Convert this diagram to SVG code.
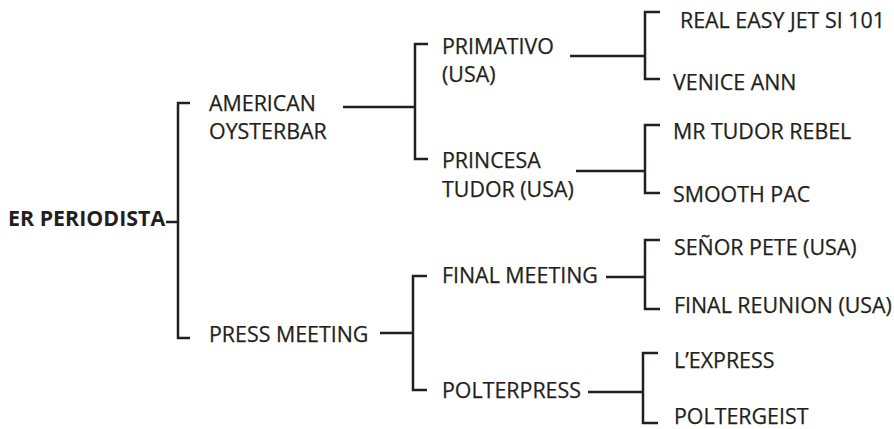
<svg xmlns="http://www.w3.org/2000/svg" width="894" height="429" viewBox="0 0 894 429">
<style>
text{font-family:"Open Sans","Noto Sans","Liberation Sans",sans-serif;font-size:21.4px;fill:#231f20;stroke:#231f20;stroke-width:0.25}
.root{font-weight:bold;font-size:21.4px;stroke-width:0}
.c path,.c line{stroke:#231f20;stroke-width:2.5;fill:none}
</style>
<rect width="894" height="429" fill="#fff"/>
<g class="c" id="connectors">
<line x1="166" y1="222" x2="178" y2="222"/>
<path d="M190,103 H178 V338 H190"/>
<line x1="343" y1="107" x2="415" y2="107"/>
<path d="M428,44 H415 V159 H428"/>
<line x1="570" y1="56" x2="645" y2="56"/>
<path d="M660,12 H645 V79 H660"/>
<line x1="576" y1="171" x2="645" y2="171"/>
<path d="M660,125 H645 V193 H660"/>
<line x1="380" y1="333" x2="413" y2="333"/>
<path d="M427,276 H413 V390 H427"/>
<line x1="606" y1="277" x2="645" y2="277"/>
<path d="M660,240 H645 V309 H660"/>
<line x1="588" y1="392" x2="643" y2="392"/>
<path d="M658,353 H643 V423 H658"/>
</g>
<g id="n-root"><text class="root" x="8" y="226">ER PERIODISTA</text></g>
<g id="n-american"><text x="209" y="111">AMERICAN</text><text x="209" y="139">OYSTERBAR</text></g>
<g id="n-press"><text x="209" y="342">PRESS MEETING</text></g>
<g id="n-primativo"><text x="442" y="54">PRIMATIVO</text><text x="442" y="82">(USA)</text></g>
<g id="n-princesa"><text x="442" y="168">PRINCESA</text><text x="442" y="197">TUDOR (USA)</text></g>
<g id="n-finalmeeting"><text x="442" y="283">FINAL MEETING</text></g>
<g id="n-polterpress"><text x="442" y="398">POLTERPRESS</text></g>
<g id="n-realeasy"><text x="680" y="27.5">REAL EASY JET SI 101</text></g>
<g id="n-venice"><text x="673" y="90">VENICE ANN</text></g>
<g id="n-mrtudor"><text x="673" y="139">MR TUDOR REBEL</text></g>
<g id="n-smooth"><text x="673" y="202">SMOOTH PAC</text></g>
<g id="n-senor"><text x="674" y="255">SEÑOR PETE (USA)</text></g>
<g id="n-finalreunion"><text x="674" y="313">FINAL REUNION (USA)</text></g>
<g id="n-lexpress"><text x="674" y="368">L’EXPRESS</text></g>
<g id="n-poltergeist"><text x="674" y="424">POLTERGEIST</text></g>
</svg>
